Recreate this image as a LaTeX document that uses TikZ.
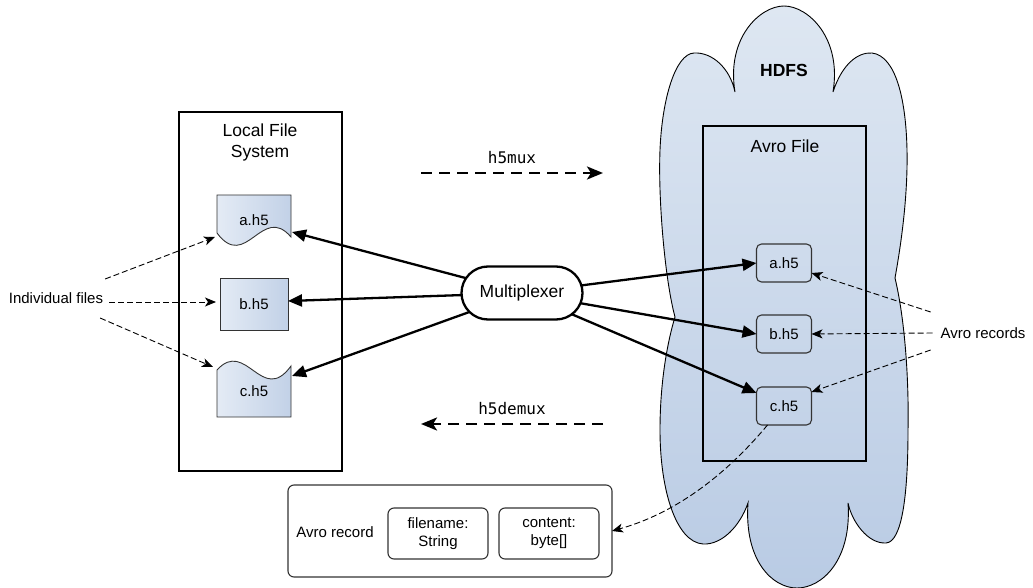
\documentclass[tikz,border=0pt]{standalone}
\usepackage{fontspec}
\setmainfont{Liberation Sans}
\newfontfamily\codefont{DejaVu Sans Mono}
\usetikzlibrary{arrows.meta,shapes.misc,calc}

\definecolor{cloudtop}{HTML}{DEE7F2}
\definecolor{cloudbot}{HTML}{B9CBE4}
\definecolor{docl}{HTML}{E4EBF5}
\definecolor{docr}{HTML}{C2D1E7}
\definecolor{edge}{HTML}{333333}

\begin{document}
\begin{tikzpicture}[x=1pt,y=-1pt,
  every node/.style={inner sep=0pt,outer sep=0pt},
  lbl/.style={font=\fontsize{15}{18}\selectfont},
  ttl/.style={font=\fontsize{17.5}{21}\selectfont,align=center},
  code/.style={font=\codefont\fontsize{16}{19}\selectfont},
  frame/.style={draw=black,line width=2.4pt},
  docshape/.style={draw=edge,line width=0.9pt,left color=docl,right color=docr},
  filebox/.style={draw=edge,line width=1.1pt,rounded corners=5pt,minimum width=55pt,minimum height=38pt,lbl},
  fieldbox/.style={draw=edge,line width=1.1pt,rounded corners=6pt,minimum width=100pt,minimum height=51pt,lbl,align=center},
  thickarrow/.style={line width=2.3pt,-{Triangle[length=14pt,width=12pt]}},
  thinarrow/.style={line width=0.9pt,dash pattern=on 6pt off 3pt,-{Stealth[length=11pt,width=9pt,inset=3pt]}},
  flowarrow/.style={line width=2.6pt,dash pattern=on 11pt off 7pt,-{Stealth[length=16pt,width=13pt,inset=4pt]}}
]
\useasboundingbox (0,0) rectangle (1033,588);

% HDFS cloud
\path[draw=black,line width=0.9pt,top color=cloudtop,bottom color=cloudbot]
  (735,92) .. controls (726,38) and (760,6) .. (784,6)
  .. controls (808,6) and (842,38) .. (833,92)
  .. controls (842,64) and (858,52) .. (872,53)
  .. controls (896,56) and (906,100) .. (907,150)
  .. controls (908,200) and (900,250) .. (895,278)
  .. controls (905,320) and (909,380) .. (908,430)
  .. controls (908,495) and (902,542) .. (886,543)
  .. controls (868,544) and (852,522) .. (848,503)
  .. controls (852,560) and (822,588) .. (797,588)
  .. controls (772,588) and (744,560) .. (748,503)
  .. controls (740,526) and (722,545) .. (703,544)
  .. controls (676,542) and (660,490) .. (660,430)
  .. controls (660,380) and (668,340) .. (675,317)
  .. controls (665,280) and (658,200) .. (660,150)
  .. controls (662,100) and (675,54) .. (694,53)
  .. controls (712,52) and (730,68) .. (735,92) -- cycle;
\node[font=\bfseries\fontsize{17.5}{21}\selectfont] (hdfs) at (784,70) {HDFS};

% Avro file container
\node[frame,minimum width=163pt,minimum height=335pt] (avf) at (784.5,293.5) {};
\node[ttl] (avft) at (785,146) {Avro File};
\node[filebox] (ra) at (784,263) {a.h5};
\node[filebox] (rb) at (784,334) {b.h5};
\node[filebox] (rc) at (784,406) {c.h5};

% Local file system container
\node[frame,minimum width=163pt,minimum height=359pt] (lfs) at (260.5,291.5) {};
\node[ttl] (lfst) at (260,142) {Local File\\System};

% local files
\path[docshape] (217,195) -- (291,195) -- (291,237)
  .. controls (262,203) and (246,272) .. (217,233) -- cycle;
\path[docshape] (220,278) rectangle (288,330);
\path[docshape] (217,370) .. controls (246,338) and (262,406) .. (291,366)
  -- (291,417) -- (217,417) -- cycle;
\node[lbl,minimum width=74pt,minimum height=46pt] (la) at (254,220) {a.h5};
\node[lbl,minimum width=68pt,minimum height=52pt] (lb) at (254,304) {b.h5};
\node[lbl,minimum width=74pt,minimum height=46pt] (lc) at (254,391) {c.h5};

% multiplexer
\node[rounded rectangle,draw=black,line width=2.3pt,minimum width=121pt,minimum height=53pt,
      font=\fontsize{17.5}{21}\selectfont] (mux) at (522,293) {Multiplexer};

\draw[thickarrow] (mux) -- ([xshift=1pt,yshift=-12pt]la.east);
\draw[thickarrow] (mux) -- ([yshift=3pt]lb.east);
\draw[thickarrow] (mux) -- ([xshift=1pt,yshift=15pt]lc.east);
\draw[thickarrow] (mux) -- (ra.west);
\draw[thickarrow] (mux) -- (rb.west);
\draw[thickarrow] (mux) -- ([yshift=-6pt]rc.north west);

% labels with dashed pointers
\node[lbl] (indiv) at (56,298) {Individual files};
\draw[thinarrow] ([xshift=2pt,yshift=19pt]indiv.east) -- ([xshift=-2pt,yshift=-17pt]la.west);
\draw[thinarrow] ([xshift=6pt,yshift=-4pt]indiv.east) -- ([xshift=-4pt,yshift=2pt]lb.west);
\draw[thinarrow] ([xshift=-3pt,yshift=-20pt]indiv.east) -- ([xshift=-4pt,yshift=24pt]lc.west);

\node[lbl] (recs) at (983,333) {Avro records};
\draw[thinarrow] ([xshift=-10pt,yshift=21pt]recs.west) -- ([yshift=-10pt]ra.east);
\draw[thinarrow] ([xshift=-8pt]recs.west) -- (rb.east);
\draw[thinarrow] ([xshift=-10pt,yshift=-17pt]recs.west) -- ([yshift=-5pt]rc.north east);

% direction markers
\coordinate (mx1) at (421,173);
\coordinate (mx2) at (603,173);
\coordinate (dx1) at (603,424);
\coordinate (dx2) at (421,424);
\node[code] (muxl) at (512,158) {h5mux};
\node[code] (demuxl) at (512,409) {h5demux};
\draw[flowarrow] (mx1) -- (mx2);
\draw[flowarrow] (dx1) -- (dx2);

% record layout
\node[draw=edge,fill=white,line width=1.1pt,rounded corners=6pt,minimum width=324pt,minimum height=92pt] (rec) at (450,531) {};
\node[lbl] (recl) at (335,532) {Avro record};
\node[fieldbox] (fname) at (438,533.5) {filename:\\String};
\node[fieldbox] (fcont) at (549,533.5) {content:\\byte[]};

\draw[thinarrow] ([xshift=11pt]rc.south west) .. controls (730,470) and (680,512) .. (rec.east);
\end{tikzpicture}
\end{document}
